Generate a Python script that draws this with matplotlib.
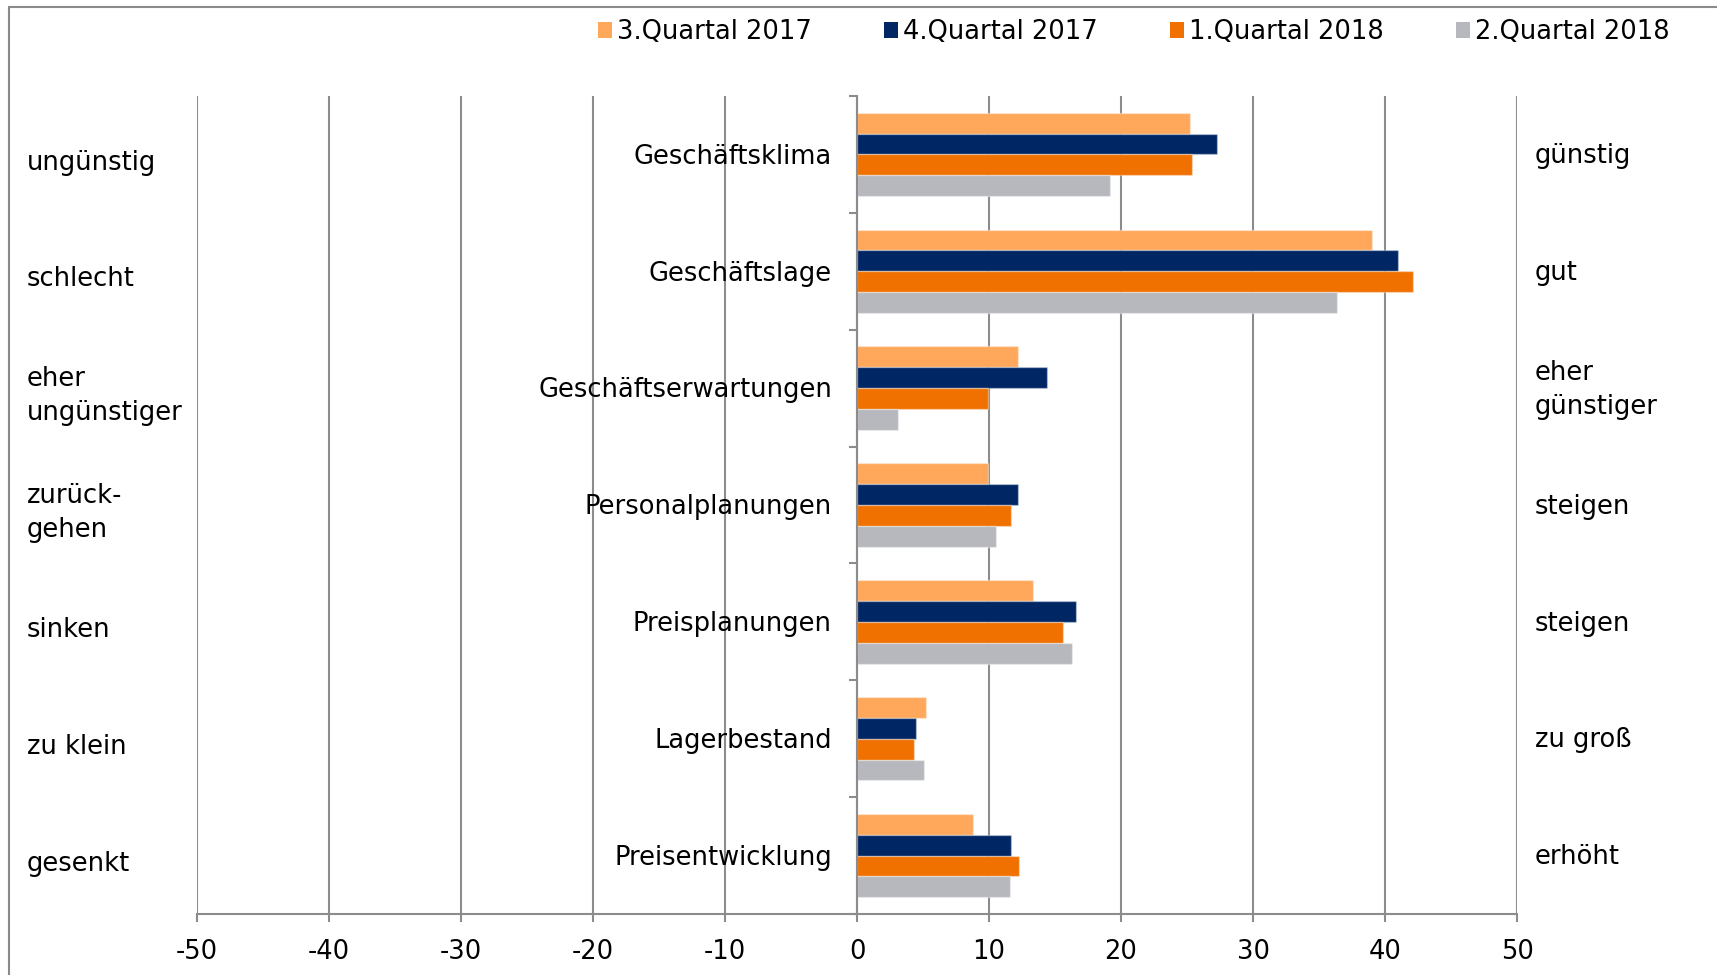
import numpy as np
import matplotlib
matplotlib.use('Agg')
import matplotlib.pyplot as plt
import matplotlib.transforms as mtransforms
from matplotlib.patches import Rectangle, Patch

# data
categories = ['Geschäftsklima', 'Geschäftslage', 'Geschäftserwartungen',
              'Personalplanungen', 'Preisplanungen', 'Lagerbestand', 'Preisentwicklung']
left_labels = ['ungünstig', 'schlecht', 'eher\nungünstiger', 'zurück-\ngehen',
               'sinken', 'zu klein', 'gesenkt']
right_labels = ['günstig', 'gut', 'eher\ngünstiger', 'steigen',
                'steigen', 'zu groß', 'erhöht']
series_names = ['3.Quartal 2017', '4.Quartal 2017', '1.Quartal 2018', '2.Quartal 2018']
q3_2017 = [25.2, 39.0, 12.2, 9.9, 13.3, 5.2, 8.8]
q4_2017 = [27.3, 41.0, 14.4, 12.2, 16.6, 4.5, 11.7]
q1_2018 = [25.4, 42.1, 9.9, 11.7, 15.6, 4.3, 12.3]
q2_2018 = [19.2, 36.4, 3.1, 10.5, 16.3, 5.1, 11.6]
series = [q3_2017, q4_2017, q1_2018, q2_2018]
colors = ['#FFA75A', '#002664', '#F07000', '#B7B8BD']
xticks = np.arange(-50, 51, 10)

plt.rcParams['font.family'] = ['DejaVu Sans']
fs = 18.5
gridc = '#8c8c8c'

fig = plt.figure(figsize=(17.17, 9.75), dpi=100)
W, H = 1717, 975
ax = fig.add_axes([197 / W, 1 - 914 / H, (1517 - 197) / W, (914 - 96) / H])

n = len(categories)
y = np.arange(n)
group = 1 / 1.4
h = group / len(series)
for k, vals in enumerate(series):
    off = (k - (len(series) - 1) / 2) * h
    ax.barh(y + off, vals, height=h, color=colors[k],
            edgecolor=(1, 1, 1, 0.35), linewidth=1, zorder=3)

ax.set_xlim(-50, 50)
ax.set_ylim(n - 0.5, -0.5)
ax.set_xticks(xticks)
ax.set_xticklabels([str(t) for t in xticks], fontsize=fs)
ax.tick_params(axis='x', length=6, width=1.5, color=gridc, pad=12)
ax.grid(axis='x', color=gridc, linewidth=1.5, zorder=0)
ax.set_axisbelow(True)

for s in ['top', 'right']:
    ax.spines[s].set_visible(False)
ax.spines['bottom'].set_color(gridc)
ax.spines['bottom'].set_linewidth(1.5)
ax.spines['left'].set_position(('data', 0))
ax.spines['left'].set_color(gridc)
ax.spines['left'].set_linewidth(1.5)
ax.spines['left'].set_zorder(4)
ax.set_yticks(np.arange(-0.5, n, 1.0))
ax.set_yticklabels([])
ax.tick_params(axis='y', length=6, width=1.5, color=gridc)

# category names next to the zero axis
for i, c in enumerate(categories):
    ax.text(-1.9, i + 0.02, c, ha='right', va='center', fontsize=fs, zorder=5)

blend = mtransforms.blended_transform_factory(fig.transFigure, ax.transData)
for i, lab in enumerate(left_labels):
    ax.text(27 / W, i + 0.07, lab, transform=blend, ha='left', va='center',
            fontsize=fs, linespacing=1.4, clip_on=False)
for i, lab in enumerate(right_labels):
    ax.text(1535 / W, i + 0.015, lab, transform=blend, ha='left', va='center',
            fontsize=fs, linespacing=1.4, clip_on=False)

handles = [Patch(facecolor=c, edgecolor='none') for c in colors]
fig.legend(handles, series_names, ncol=4, loc='center right',
           bbox_to_anchor=(1680 / W, 1 - 32 / H), frameon=False, fontsize=fs,
           handlelength=0.55, handleheight=0.55, handletextpad=0.2,
           columnspacing=2.8, borderaxespad=0)

# chart area border
fig.patches.append(Rectangle((9 / W, -0.1), 1.2, 1.1 - 7 / H,
                             transform=fig.transFigure, fill=False,
                             edgecolor='#8a8a8a', linewidth=1.5))

fig.savefig('out.png', dpi=100)
